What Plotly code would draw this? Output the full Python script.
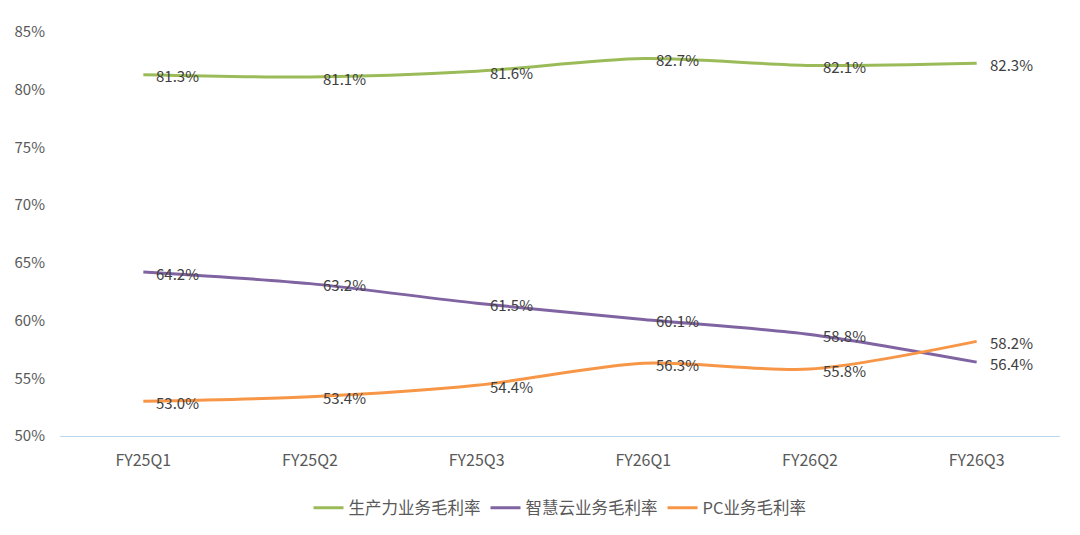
import plotly.graph_objects as go

categories = ["FY25Q1", "FY25Q2", "FY25Q3", "FY26Q1", "FY26Q2", "FY26Q3"]
productivity = [81.3, 81.1, 81.6, 82.7, 82.1, 82.3]
cloud = [64.2, 63.2, 61.5, 60.1, 58.8, 56.4]
pc = [53.0, 53.4, 54.4, 56.3, 55.8, 58.2]
series_names = ["生产力业务毛利率", "智慧云业务毛利率", "PC业务毛利率"]
y_ticks = [50, 55, 60, 65, 70, 75, 80, 85]

colors = ["#9BBB59", "#8064A2", "#F79646"]
FONT = "Noto Sans CJK SC, Noto Sans, sans-serif"
TXT = "#404040"

fig = go.Figure()
for name, vals, col in zip(series_names, [productivity, cloud, pc], colors):
    fig.add_trace(go.Scatter(
        x=categories, y=vals, name=name, mode="lines",
        line=dict(color=col, width=3, shape="spline", smoothing=0.8),
        cliponaxis=False,
    ))
    for c, v in zip(categories, vals):
        fig.add_annotation(
            x=c, y=v, text=f"{v:.1f}%", showarrow=False,
            xanchor="left", yanchor="middle", xshift=11, yshift=-1,
            font=dict(family=FONT, size=15, color=TXT),
        )

fig.update_layout(
    width=1080, height=535,
    margin=dict(l=60, r=20, t=32, b=99, autoexpand=False),
    paper_bgcolor="white", plot_bgcolor="white",
    font=dict(family=FONT, size=15, color="#595959"),
    showlegend=True,
    legend=dict(orientation="h", x=0.5, xanchor="center", y=-0.178, yanchor="middle",
                font=dict(family=FONT, size=16.5, color="#595959"),
                itemwidth=30, tracegroupgap=0),
    xaxis=dict(range=[-0.5, 5.5], showgrid=False, showline=True, linecolor="#BDD7EE", linewidth=1,
               ticks="", ticklabelstandoff=10, tickfont=dict(size=16, color="#595959"),
               zeroline=False),
    yaxis=dict(range=[50, 85], tickvals=y_ticks, ticktext=[f"{v}%" for v in y_ticks],
               showgrid=False, showline=False, zeroline=False, ticks="",
               ticklabelstandoff=14, tickfont=dict(size=15, color="#595959")),
)

fig.write_html("out.html")
